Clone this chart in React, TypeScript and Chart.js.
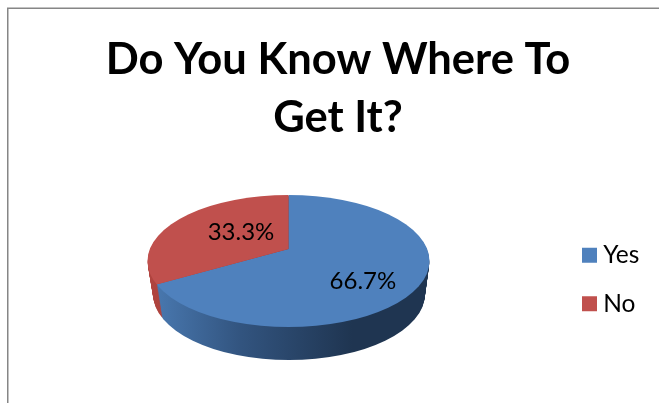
import { useEffect, useRef } from "react";
import { Chart, registerables } from "chart.js";

Chart.register(...registerables);

const categories = ["Yes", "No"];
const shares = [66.7, 33.3];
const colors = ["#4F81BD", "#C0504D"];
const titleLines = ["Do You Know Where To", "Get It?"];

// Projection of the pie disc on to the page (layout, not data)
const TOP = { cx: 288.5, cy: 261, rx: 141, ry: 66 };
const BOTTOM = { cx: 289, cy: 294, rx: 136, ry: 66 };
const APEX_LIFT = 12;
const WALL_LAYERS = 36;
const LABEL_ANCHORS = [
  { fx: 0.528, fy: 0.3 },
  { fx: -0.337, fy: -0.44 },
];
const LEGEND_LEFT = 564;
const LEGEND_SHIFT_Y = 78;

const noBorder = {
  borderColor: "transparent",
  borderWidth: 0,
  borderAlign: "center",
  spacing: 0,
  offset: 0,
  borderJoinStyle: "round",
  borderDash: [],
  borderDashOffset: 0,
  circular: true,
};

const drawDisc = (
  ctx: CanvasRenderingContext2D,
  arcs: any[],
  d: typeof TOP,
  fill: (i: number, ex: (px: number) => number) => any,
) => {
  arcs.forEach((arc, i) => {
    const { x, y, outerRadius, options } = arc;
    const sx = d.rx / outerRadius;
    const sy = d.ry / outerRadius;
    ctx.save();
    ctx.translate(d.cx, d.cy);
    ctx.scale(sx, sy);
    ctx.translate(-x, -y);
    ctx.beginPath();
    ctx.arc(x, y, outerRadius, 0, Math.PI * 2);
    ctx.clip();
    const ex = (px: number) => x + (px - d.cx) / sx;
    // Slices meet above the disc's centre, as in a perspective view
    arc.y = y - APEX_LIFT / sy;
    arc.outerRadius = outerRadius * 1.6;
    arc.options = { ...noBorder, backgroundColor: fill(i, ex) };
    arc.draw(ctx);
    arc.y = y;
    arc.outerRadius = outerRadius;
    arc.options = options;
    ctx.restore();
  });
};

const pie3d = {
  id: "pie3d",
  afterLayout(chart: any) {
    const lg = chart.legend;
    lg.left = LEGEND_LEFT;
    lg.top += LEGEND_SHIFT_Y;
    lg.bottom += LEGEND_SHIFT_Y;
  },
  beforeDraw(chart: any) {
    const { ctx, width, height } = chart;
    ctx.save();
    ctx.fillStyle = "#fff";
    ctx.fillRect(0, 0, width, height);
    ctx.strokeStyle = "#868686";
    ctx.lineWidth = 1.5;
    ctx.beginPath();
    ctx.moveTo(7.75, height);
    ctx.lineTo(7.75, 8.25);
    ctx.lineTo(width, 8.25);
    ctx.stroke();
    ctx.restore();
  },
  beforeDatasetDraw(chart: any) {
    const { ctx } = chart;
    const arcs = chart.getDatasetMeta(0).data;
    for (let l = WALL_LAYERS; l >= 1; l--) {
      const t = l / WALL_LAYERS;
      const d = {
        cx: TOP.cx + (BOTTOM.cx - TOP.cx) * t,
        cy: TOP.cy + (BOTTOM.cy - TOP.cy) * t,
        rx: TOP.rx + (BOTTOM.rx - TOP.rx) * t,
        ry: TOP.ry + (BOTTOM.ry - TOP.ry) * t,
      };
      drawDisc(ctx, arcs, d, (i, ex) => {
        const g = ctx.createLinearGradient(ex(150), 0, ex(352), 0);
        if (i === 0) {
          g.addColorStop(0, "#4A7AB2");
          g.addColorStop(0.45, "#32547F");
          g.addColorStop(1, "#1F3551");
        } else {
          g.addColorStop(0, "#B0443F");
          g.addColorStop(1, "#8A302D");
        }
        return g;
      });
    }
    drawDisc(ctx, arcs, TOP, (i) => colors[i]);
    return false;
  },
  afterDatasetsDraw(chart: any) {
    const { ctx } = chart;
    ctx.save();
    ctx.fillStyle = "#000";
    ctx.font = "24px Lato";
    ctx.textAlign = "center";
    ctx.textBaseline = "middle";
    shares.forEach((v, i) => {
      const a = LABEL_ANCHORS[i];
      ctx.fillText(`${v.toFixed(1)}%`, TOP.cx + a.fx * TOP.rx, TOP.cy + a.fy * TOP.ry);
    });
    ctx.restore();
  },
};

export default function App() {
  const ref = useRef<HTMLCanvasElement>(null);
  useEffect(() => {
    const chart = new Chart(ref.current!, {
      type: "pie",
      plugins: [pie3d],
      data: {
        labels: categories,
        datasets: [{ data: shares, backgroundColor: colors, borderWidth: 0 }],
      },
      options: {
        responsive: false,
        animation: false,
        layout: { padding: { left: 17 } },
        plugins: {
          tooltip: { enabled: false },
          title: {
            display: true,
            text: titleLines,
            color: "#000",
            font: { family: "Lato", size: 43.5, weight: "bold", lineHeight: 1.333 },
            padding: { top: 31, bottom: 10 },
          },
          legend: {
            display: true,
            position: "right",
            labels: {
              color: "#000",
              font: { family: "Lato", size: 24.5 },
              usePointStyle: true,
              pointStyle: "rect",
              boxWidth: 3,
              boxHeight: 15,
              padding: 24,
            },
          },
        },
      },
    });
    return () => chart.destroy();
  }, []);
  return (
    <canvas
      ref={ref}
      width={659}
      height={403}
      style={{ position: "absolute", left: 0, top: 0, display: "block" }}
    />
  );
}
